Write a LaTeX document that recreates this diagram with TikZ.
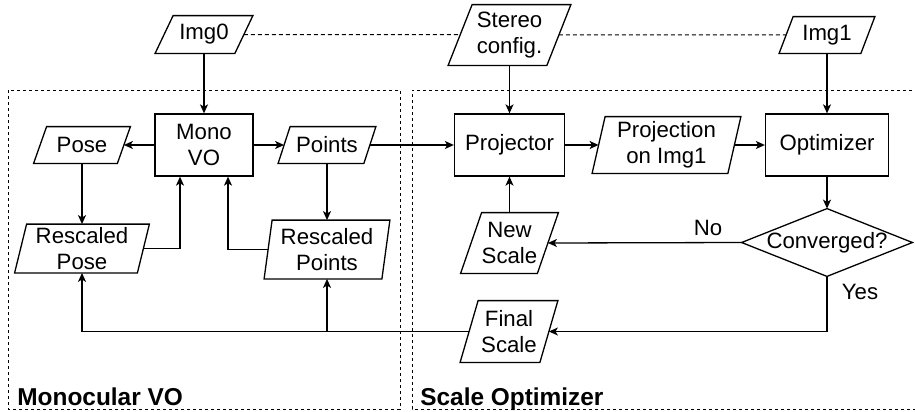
\documentclass[tikz,border=0pt]{standalone}
\usepackage{fontspec}
\setmainfont{Liberation Sans}
\usetikzlibrary{arrows.meta,backgrounds,calc}
\tikzset{
  lbl/.style={font=\fontsize{11.1}{12.8}\selectfont, align=center, inner sep=0pt},
  boxn/.style={lbl, draw, fill=white, line width=0.65pt},
  shp/.style={draw, fill=white, line width=0.65pt},
  conn/.style={line width=0.65pt, -{Stealth[length=4.5pt,width=4pt,inset=1.2pt]}},
  plain/.style={line width=0.65pt},
  container/.style={line width=0.5pt, dash pattern=on 1.5pt off 1.5pt},
  imgdash/.style={line width=0.5pt, dash pattern=on 2pt off 1.5pt},
  title/.style={font=\bfseries\fontsize{12.2}{14}\selectfont, anchor=base west, inner sep=0pt}
}
\newcommand\parashape[2]{\draw[shp] ([xshift=#2]#1.north west) -- ([xshift=#2]#1.north east) -- ([xshift=-#2]#1.south east) -- ([xshift=-#2]#1.south west) -- cycle;}
\newcommand\diamondshape[1]{\draw[shp] (#1.north) -- (#1.east) -- (#1.south) -- (#1.west) -- cycle;}
\begin{document}
\begin{tikzpicture}[x=0.5pt,y=-0.5pt]
\useasboundingbox (0,0) rectangle (915,412);
% inputs
\node[lbl, minimum width=39.5pt, minimum height=18.5pt] (img0) at (204,34.5) {Img0};
\node[lbl, minimum width=49pt, minimum height=30pt] (stereo) at (509.5,35) {Stereo\\config.};
\node[lbl, minimum width=40.5pt, minimum height=18pt] (img1) at (827,35) {Img1};
% monocular VO
\node[boxn, minimum width=49pt, minimum height=31pt] (mono) at (204,145) {Mono\\VO};
\node[lbl, minimum width=41.5pt, minimum height=18pt] (pose) at (82,145) {Pose};
\node[lbl, minimum width=42.5pt, minimum height=18pt] (points) at (327,145) {Points};
\node[lbl, minimum width=61pt, minimum height=24pt] (rpose) at (82,248.5) {Rescaled\\Pose};
\node[lbl, minimum width=58.5pt, minimum height=29pt] (rpoints) at (327,249.5) {Rescaled\\Points};
% scale optimizer
\node[boxn, minimum width=55pt, minimum height=31pt] (projector) at (509.5,145) {Projector};
\node[lbl, minimum width=67.5pt, minimum height=28pt] (projon) at (666.5,145) {Projection\\on Img1};
\node[boxn, minimum width=61.5pt, minimum height=31pt] (opt) at (827,145) {Optimizer};
\node[lbl, minimum width=85pt, minimum height=33.5pt] (conv) at (827,242.5) {Converged?};
\node[lbl, minimum width=38pt, minimum height=30pt] (newscale) at (509.5,243) {New\\Scale};
\node[lbl, minimum width=39.5pt, minimum height=30.5pt] (final) at (509,331.5) {Final\\Scale};
% edge labels
\node[lbl] (nolbl) at (708,228) {No};
\node[lbl] (yeslbl) at (860,292) {Yes};
% group titles
\node[title] (t1) at (17,405) {Monocular VO};
\node[title] (t2) at (420,405) {Scale Optimizer};
\begin{scope}[on background layer]
  \draw[container] (8,90) rectangle (400,409);
  \draw[container] (918,90) -- (412,90) -- (412,409) -- (918,409);
  \draw[imgdash] (img0.east) -- (img1.west);
  \parashape{img0}{4.5pt}
  \parashape{stereo}{6pt}
  \parashape{img1}{3.5pt}
  \parashape{pose}{3.25pt}
  \parashape{points}{3pt}
  \parashape{rpose}{3pt}
  \parashape{rpoints}{2pt}
  \parashape{projon}{3.25pt}
  \parashape{newscale}{5.25pt}
  \parashape{final}{4.5pt}
  \diamondshape{conv}
\end{scope}
% connectors
\draw[conn] (img0.south) -- (mono.north);
\draw[conn] (mono.west) -- (pose.east);
\draw[conn] (mono.east) -- (points.west);
\draw[conn] (points.east) -- (projector.west);
\draw[conn] (stereo.south) -- (projector.north);
\draw[conn] (projector.east) -- (projon.west);
\draw[conn] (projon.east) -- (opt.west);
\draw[conn] (img1.south) -- (opt.north);
\draw[conn] (opt.south) -- (conv.north);
\draw[conn] (conv.west) -- (newscale.east);
\draw[conn] (newscale.north) -- (projector.south);
\draw[conn] (conv.south) |- (final.east);
\draw[conn] (final.west) -| (rpose.south);
\draw[conn] (rpoints.south |- final.west) -- (rpoints.south);
\draw[conn] (pose.south) -- (rpose.north);
\draw[conn] (points.south) -- (rpoints.north);
\draw[conn] (rpose.east) -| ([xshift=-12pt]mono.south);
\draw[conn] (rpoints.west) -| ([xshift=12pt]mono.south);
\end{tikzpicture}
\end{document}
